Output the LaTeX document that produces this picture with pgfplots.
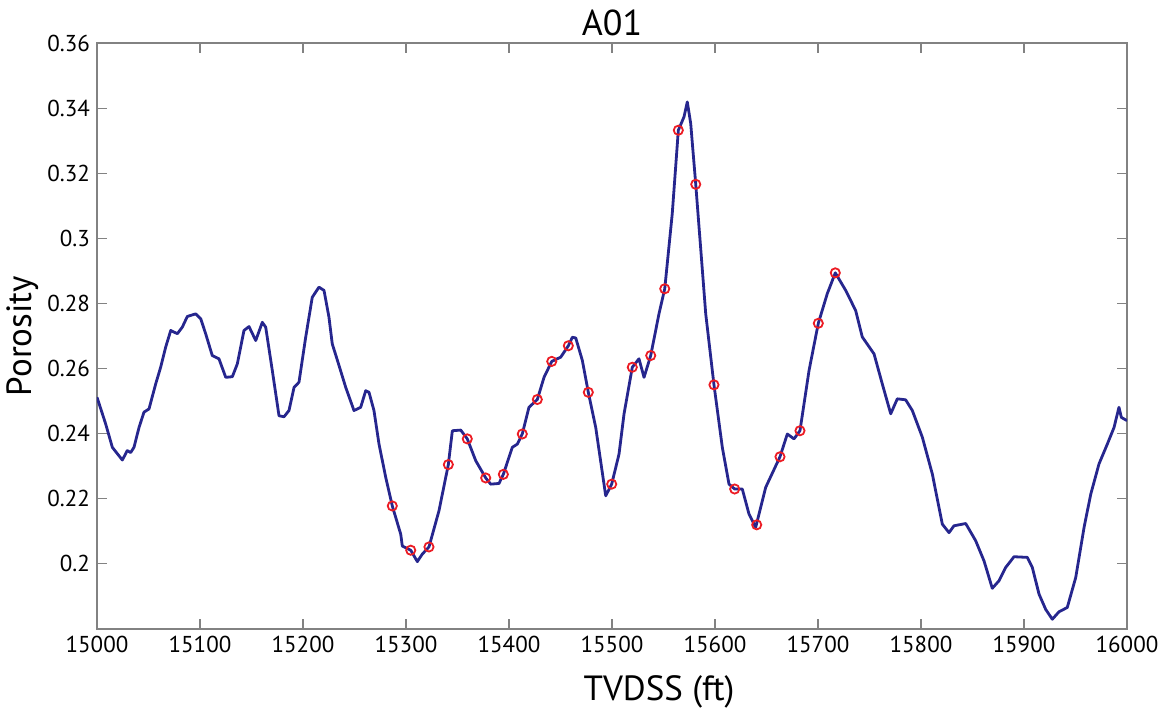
\documentclass[border=0pt]{standalone}
\usepackage{fontspec}
\setmainfont{PT Sans}
\usepackage{pgfplots}
\pgfplotsset{compat=1.18}
\definecolor{curve}{RGB}{38,38,142}
\definecolor{mk}{RGB}{236,28,36}
\definecolor{axgray}{RGB}{130,130,130}
\begin{document}
\begin{tikzpicture}
\useasboundingbox (-48.5pt,-41.5pt) rectangle (532.5pt,314.5pt);
\begin{axis}[
  name=ax,
  at={(0,0)}, anchor=south west,
  scale only axis, width=515pt, height=293pt,
  xmin=15000, xmax=16000, ymin=0.18, ymax=0.36,
  scaled x ticks=false, scaled y ticks=false,
  xtick={15000,15100,15200,15300,15400,15500,15600,15700,15800,15900,16000},
  xticklabels={15000,15100,15200,15300,15400,15500,15600,15700,15800,15900,16000},
  ytick={0.2,0.22,0.24,0.26,0.28,0.3,0.32,0.34,0.36},
  yticklabels={0.2,0.22,0.24,0.26,0.28,0.3,0.32,0.34,0.36},
  tick align=inside, major tick length=5pt,
  axis line style={axgray, line width=0.6pt},
  every tick/.style={axgray, line width=0.6pt},
  tick label style={font=\fontsize{11.5}{12}\selectfont, black},
  xlabel={TVDSS (ft)},
  xlabel style={font=\fontsize{17.5}{18}\selectfont, at={(axis description cs:0.5,0)}, anchor=center, yshift=-31.5pt, xshift=23.5pt},
  ylabel={Porosity},
  ylabel style={font=\fontsize{17.5}{18}\selectfont, at={(axis description cs:0,0.5)}, anchor=center, yshift=37pt},
  clip=true,
]
\addplot[curve, line width=1.4pt, line join=round] coordinates {
(15000,0.2512) (15008.4,0.2430) (15014.9,0.2358) (15024.6,0.2319) (15029.4,0.2348)
(15032.7,0.2342) (15035.9,0.2358) (15040.8,0.2419) (15045.6,0.2466) (15050.5,0.2476)
(15057.0,0.2553) (15061.8,0.2604) (15066.7,0.2666) (15071.6,0.2717) (15078.0,0.2707)
(15082.8,0.2727) (15087.7,0.2760) (15095.8,0.2768) (15100.7,0.2753) (15105.5,0.2707)
(15111.9,0.2640) (15118.4,0.2630) (15125.0,0.2573) (15131.4,0.2575) (15136.2,0.2614)
(15142.7,0.2717) (15147.6,0.2729) (15154.1,0.2686) (15160.5,0.2742) (15163.8,0.2727)
(15170.2,0.2594) (15176.7,0.2455) (15181.6,0.2452) (15186.4,0.2471) (15191.3,0.2542)
(15196.1,0.2558) (15202.6,0.2696) (15209.0,0.2819) (15215.5,0.2850) (15220.4,0.2840)
(15225.2,0.2758) (15228.4,0.2676) (15235.0,0.2609) (15241.5,0.2542) (15249.5,0.2471)
(15256.0,0.2481) (15260.9,0.2532) (15264.1,0.2527) (15268.9,0.2471) (15273.8,0.2368)
(15280.3,0.2266) (15286.7,0.2178) (15294.9,0.2091) (15296.4,0.2055) (15304.6,0.2042)
(15311.0,0.2007) (15315.8,0.2030) (15322.3,0.2052) (15332.0,0.2163) (15341.1,0.2305)
(15345.0,0.2409) (15353.1,0.2411) (15359.5,0.2384) (15367.7,0.2317) (15377.4,0.2264)
(15382.2,0.2245) (15390.3,0.2247) (15394.5,0.2275) (15403.2,0.2358) (15408.1,0.2368)
(15412.9,0.2399) (15419.4,0.2481) (15427.5,0.2505) (15434.0,0.2573) (15441.5,0.2622)
(15450.2,0.2635) (15457.6,0.2670) (15461.5,0.2696) (15464.8,0.2694) (15471.2,0.2625)
(15477.0,0.2527) (15484.2,0.2419) (15493.9,0.2209) (15499.7,0.2245) (15506.8,0.2337)
(15511.7,0.2461) (15519.7,0.2604) (15526.2,0.2630) (15531.1,0.2573) (15537.6,0.2640)
(15545.6,0.2768) (15551.2,0.2845) (15558.5,0.3076) (15564.4,0.3332) (15569.9,0.3373)
(15573.1,0.3419) (15576.4,0.3353) (15581.3,0.3166) (15591.0,0.2768) (15599.0,0.2550)
(15607.1,0.2358) (15613.6,0.2245) (15619.1,0.2230) (15626.5,0.2230) (15633.0,0.2153)
(15639.5,0.2112) (15649.2,0.2235) (15663.1,0.2329) (15670.2,0.2399) (15676.7,0.2384)
(15682.5,0.2409) (15691.3,0.2594) (15700.3,0.2739) (15709.0,0.2830) (15716.8,0.2894)
(15726.9,0.2840) (15736.6,0.2778) (15743.0,0.2697) (15754.4,0.2645) (15762.4,0.2553)
(15770.6,0.2461) (15777.0,0.2507) (15785.1,0.2504) (15791.6,0.2471) (15801.3,0.2389)
(15811.0,0.2276) (15820.7,0.2122) (15827.2,0.2096) (15832.0,0.2117) (15843.4,0.2124)
(15853.1,0.2071) (15861.2,0.2009) (15869.2,0.1925) (15875.7,0.1948) (15882.2,0.1989)
(15890.3,0.2022) (15903.2,0.2020) (15908.1,0.1989) (15914.6,0.1907) (15921.1,0.1860)
(15927.5,0.1830) (15934.0,0.1853) (15942.0,0.1866) (15950.2,0.1958) (15958.3,0.2112)
(15964.8,0.2214) (15972.8,0.2307) (15980.9,0.2368) (15987.4,0.2419) (15992.2,0.2481)
(15994.5,0.2450) (16000,0.2440)
};
\addplot[only marks, mark=o, mark size=2.3pt, mark options={mk, line width=0.9pt}] coordinates {
(15286.7,0.2178) (15304.6,0.2042) (15322.3,0.2052) (15341.1,0.2305) (15359.5,0.2384)
(15377.4,0.2264) (15394.5,0.2275) (15412.9,0.2399) (15427.5,0.2505) (15441.5,0.2622)
(15457.6,0.2670) (15477.0,0.2527) (15499.7,0.2245) (15519.7,0.2604) (15537.6,0.2640)
(15551.2,0.2845) (15564.4,0.3332) (15581.3,0.3166) (15599.0,0.2550) (15619.1,0.2230)
(15640.5,0.2120) (15663.1,0.2329) (15682.5,0.2409) (15700.3,0.2739) (15716.8,0.2894)
};
\end{axis}
\node[font=\fontsize{18}{18}\selectfont, anchor=base] at ([yshift=3.5pt]ax.north) {A01};
\end{tikzpicture}
\end{document}
